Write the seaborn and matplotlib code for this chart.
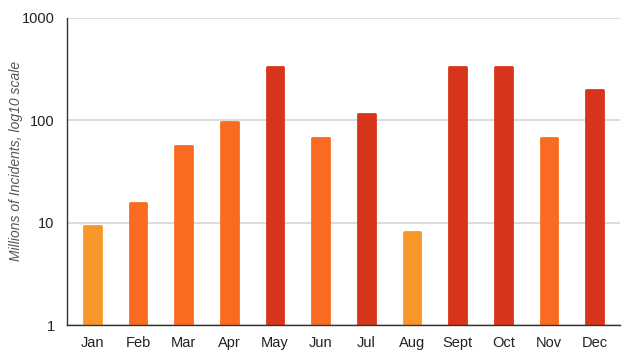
import matplotlib
matplotlib.use("Agg")
import matplotlib.pyplot as plt
import seaborn as sns
import pandas as pd

months = ["Jan", "Feb", "Mar", "Apr", "May", "Jun", "Jul", "Aug", "Sept", "Oct", "Nov", "Dec"]
incidents = [9.3, 15.5, 56, 96, 330, 67, 115, 8.2, 330, 330, 67, 197]
levels = ["low", "mid", "mid", "mid", "high", "mid", "high", "low", "high", "high", "mid", "high"]
level_colors = {"low": "#F7972A", "mid": "#F96B20", "high": "#D7351B"}

df = pd.DataFrame({"month": months, "incidents": incidents, "level": levels})

sns.set_theme(style="white")
plt.rcParams["font.family"] = ["Liberation Sans", "DejaVu Sans"]

fig = plt.figure(figsize=(6.28, 3.59), dpi=100)
ax = fig.add_axes([0.107, 0.094, 0.88, 0.856])

sns.barplot(data=df, x="month", y="incidents", hue="level", palette=level_colors,
            dodge=False, width=0.37, legend=False, ax=ax, saturation=1)
ax.set_yscale("log")
for p in ax.patches:
    p.set_edgecolor(p.get_facecolor())
    p.set_linewidth(2.0)
    p.set_joinstyle("round")

ax.set_ylim(1, 1000)
ax.set_xlim(-0.55, 11.55)
ax.set_yticks([1, 10, 100, 1000])
ax.set_yticklabels(["1", "10", "100", "1000"])
ax.minorticks_off()
ax.yaxis.grid(True, color="#d6d6d6", linewidth=1.2)
ax.set_axisbelow(True)
for s in ["top", "right"]:
    ax.spines[s].set_visible(False)
for s in ["left", "bottom"]:
    ax.spines[s].set_color("#333333")
    ax.spines[s].set_linewidth(1.0)
    ax.spines[s].set_zorder(5)
ax.tick_params(axis="both", length=0, labelsize=10.5, colors="#222222", pad=8)
ax.tick_params(axis="y", pad=9)
ax.set_xlabel("")
ax.set_ylabel("Millions of Incidents, log10 scale", fontsize=10, style="italic",
              color="#555555")
ax.yaxis.set_label_coords(-0.08, 0.535)

fig.savefig("out.png", dpi=100, facecolor="white")
